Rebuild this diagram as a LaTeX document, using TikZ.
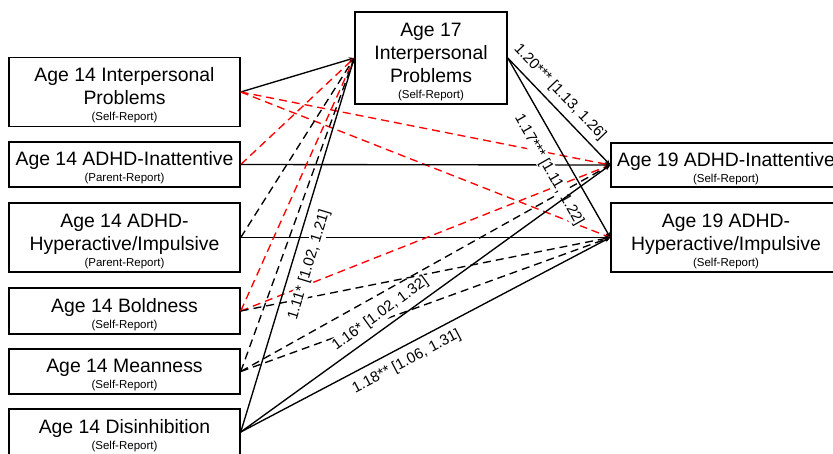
\documentclass[tikz,border=0pt]{standalone}
\usepackage{fontspec}
\setmainfont{Liberation Sans}
\usetikzlibrary{arrows.meta}
\newcommand{\subtxt}[1]{{\fontsize{11.5}{14}\selectfont #1}}
\newcommand{\tp}{\rule{0pt}{20.5pt}}
\begin{document}
\begin{tikzpicture}[x=1pt,y=-1pt,
 box/.style={draw, line width=1.5pt, minimum width=231pt, inner sep=0pt, align=center, font=\fontsize{19.4}{23}\selectfont},
 conn/.style={line width=1.35pt, -{Stealth[length=5.5pt,width=4.5pt]}},
 rd/.style={conn, red, dash pattern=on 8pt off 5pt},
 bd/.style={conn, black, dash pattern=on 8pt off 5pt},
 lab/.style={sloped, fill=white, inner sep=1pt, font=\fontsize{15}{18}\selectfont}]
\useasboundingbox (0,0) rectangle (833,453);
% left column
\node[box, minimum height=69pt] (i14) at (124.5,92) {\tp Age 14 Interpersonal\\Problems\\[-7pt]\subtxt{(Self-Report)}};
\node[box, minimum height=45pt] (a14) at (124.5,164.5) {\tp Age 14 ADHD-Inattentive\\[-7pt]\subtxt{(Parent-Report)}};
\node[box, minimum height=69pt] (h14) at (124.5,237.5) {\tp Age 14 ADHD-\\Hyperactive/Impulsive\\[-7pt]\subtxt{(Parent-Report)}};
\node[box, minimum height=46pt] (b14) at (124.5,311) {\tp Age 14 Boldness\\[-7pt]\subtxt{(Self-Report)}};
\node[box, minimum height=45pt] (m14) at (124.5,371.5) {\tp Age 14 Meanness\\[-7pt]\subtxt{(Self-Report)}};
\node[box, minimum height=46pt] (d14) at (124.5,432) {\tp Age 14 Disinhibition\\[-7pt]\subtxt{(Self-Report)}};
% middle
\node[box, minimum width=152pt, minimum height=92pt] (i17) at (431,58) {\tp Age 17\\Interpersonal\\Problems\\[-7pt]\subtxt{(Self-Report)}};
% right
\node[box, minimum width=230pt, minimum height=44pt] (a19) at (726,165) {\tp Age 19 ADHD-Inattentive\\[-7pt]\subtxt{(Self-Report)}};
\node[box, minimum width=230pt, minimum height=69pt] (h19) at (726,237.5) {\tp Age 19 ADHD-\\Hyperactive/Impulsive\\[-7pt]\subtxt{(Self-Report)}};
% unlabeled connectors
\draw[conn] (i14.east) -- (i17.west);
\draw[rd] (i14.east) -- (a19.west);
\draw[rd] (i14.east) -- (h19.west);
\draw[rd] (a14.east) -- (i17.west);
\draw[conn] (a14.east) -- (a19.west);
\draw[bd] (h14.east) -- (i17.west);
\draw[conn] (h14.east) -- (h19.west);
\draw[rd] (b14.east) -- (i17.west);
\draw[rd] (b14.east) -- (a19.west);
\draw[bd] (b14.east) -- (h19.west);
\draw[bd] (m14.east) -- (i17.west);
\draw[bd] (m14.east) -- (a19.west);
\draw[bd] (m14.east) -- (h19.west);
% labeled connectors
\draw[conn] (i17.east) -- node[lab, pos=0.41, yshift=14pt] {1.20*** [1.13, 1.26]} (a19.west);
\draw[conn] (i17.east) -- node[lab, pos=0.57, yshift=-20pt] {1.17*** [1.11, 1.22]} (h19.west);
\draw[conn] (d14.east) -- node[lab, pos=0.46, yshift=-17pt] {1.11* [1.02, 1.21]} (i17.west);
\draw[conn] (d14.east) -- node[lab, pos=0.40, yshift=14pt] {1.16* [1.02, 1.32]} (a19.west);
\draw[conn] (d14.east) -- node[lab, pos=0.43, yshift=-15pt] {1.18** [1.06, 1.31]} (h19.west);
\end{tikzpicture}
\end{document}
